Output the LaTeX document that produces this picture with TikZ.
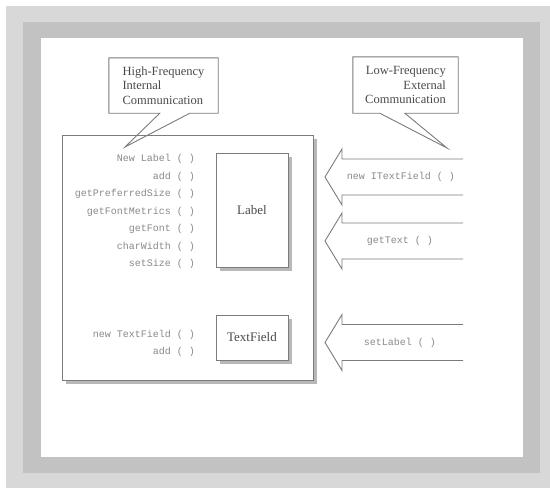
\documentclass[tikz,border=0pt]{standalone}
\usepackage{fontspec}
\setmainfont{Liberation Serif}
\setmonofont{Liberation Mono}
\usetikzlibrary{calc,positioning,shadows}
\definecolor{framelight}{HTML}{D8D8D8}
\definecolor{framemid}{HTML}{C2C2C2}
\definecolor{edge}{HTML}{7C7C7C}
\definecolor{calltext}{HTML}{8A8A8A}
\definecolor{boxtext}{HTML}{4A4A4A}

\begin{document}
\begin{tikzpicture}[x=1pt, y=-1pt,
  line/.style={draw=edge, line width=0.9pt},
  shade/.style={drop shadow={shadow xshift=4pt, shadow yshift=-4pt, fill=black!28, opacity=1}},
  panel/.style={line, fill=white, shade, inner sep=0pt},
  widget/.style={line, fill=white, shade, inner sep=0pt, text=boxtext, font=\fontsize{13}{15}\selectfont},
  note/.style={inner sep=0pt, text=boxtext, font=\fontsize{12.5}{14.5}\selectfont},
  call/.style={text=calltext, inner sep=0pt, font=\ttfamily\fontsize{10}{12}\selectfont},
  msgarrow/.pic={\draw[line] (63,-18) -- (-58,-18) -- (-58,-28) -- (-75,0) -- (-58,28) -- (-58,18) -- (63,18);}
]
\useasboundingbox (0,0) rectangle (550,488);

% frame
\fill[framelight] (6,6) rectangle (550,488);
\fill[framemid] (23,22) rectangle (540,473);
\fill[white] (41,38) rectangle (523,457);

% application panel
\node[panel, minimum width=251pt, minimum height=245pt, anchor=north west] (panel) at (62,135) {};
\node[widget, minimum width=72pt, minimum height=114pt] (labelbox) at (252,210) {Label};
\node[widget, minimum width=72pt, minimum height=45pt] (fieldbox) at (252,337.5) {TextField};

\node[call, anchor=east] (m1) at (195,159) {New Label ( )};
\node[call, anchor=east] (m2) at (195,176.5) {add ( )};
\node[call, anchor=east] (m3) at (195,194) {getPreferredSize ( )};
\node[call, anchor=east] (m4) at (195,211.5) {getFontMetrics ( )};
\node[call, anchor=east] (m5) at (195,229) {getFont ( )};
\node[call, anchor=east] (m6) at (195,246.5) {charWidth ( )};
\node[call, anchor=east] (m7) at (195,264) {setSize ( )};
\node[call, anchor=east] (m8) at (195,335) {new TextField ( )};
\node[call, anchor=east] (m9) at (195,352) {add ( )};

% callouts
\node[note, align=left, minimum width=109pt, minimum height=55pt] (hifreq) at (163.5,85.5) {High-Frequency\\Internal\\Communication};
\coordinate (hitip) at (125,147);
\draw[line] (hifreq.south west) -- (hifreq.north west) -- (hifreq.north east) -- (hifreq.south east)
  -- ($(hifreq.south west)+(81,0)$) -- (hitip) -- ($(hifreq.south west)+(51,0)$) -- cycle;

\node[note, align=right, minimum width=105pt, minimum height=56pt] (lofreq) at (405.5,85) {Low-Frequency\\External\\Communication};
\coordinate (lotip) at (447,148);
\draw[line] (lofreq.south west) -- (lofreq.north west) -- (lofreq.north east) -- (lofreq.south east)
  -- ($(lofreq.south west)+(52,0)$) -- (lotip) -- ($(lofreq.south west)+(27,0)$) -- cycle;

% external messages
\node[call] (ask1) at (401,177) {new ITextField ( )};
\node[call] (ask2) at (400,241) {getText ( )};
\node[call] (ask3) at (400,342.5) {setLabel ( )};
\pic at (400,177) {msgarrow};
\pic at (400,241) {msgarrow};
\pic at (400,342.5) {msgarrow};
\end{tikzpicture}
\end{document}
